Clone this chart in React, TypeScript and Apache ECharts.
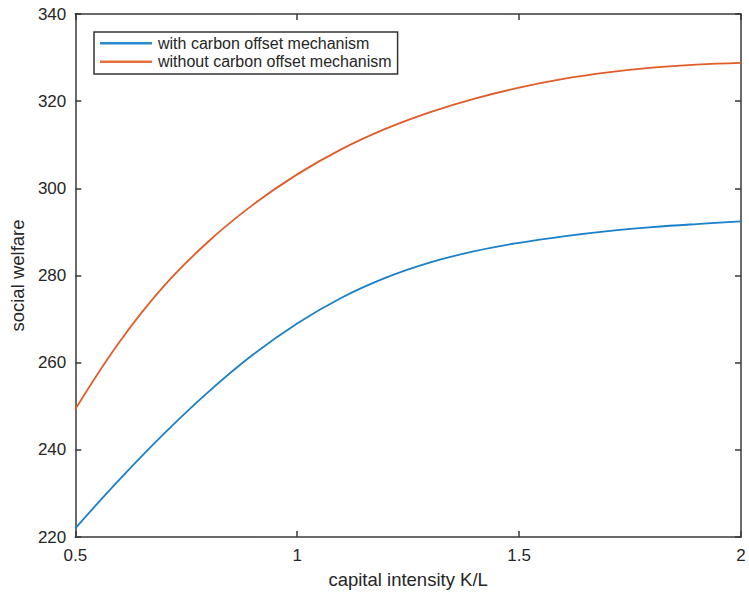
import React, { useEffect, useRef } from "react";
import * as echarts from "echarts";

const xValues = [0.5, 0.6, 0.7, 0.8, 0.9, 1.0, 1.1, 1.2, 1.3, 1.4, 1.5, 1.6, 1.7, 1.8, 1.9, 2.0];
const withOffset = [222.0, 233.2, 243.7, 253.3, 261.8, 269.0, 274.9, 279.5, 283.0, 285.6, 287.5, 289.0, 290.2, 291.1, 291.8, 292.4];
const withoutOffset = [249.3, 264.8, 277.6, 287.8, 296.2, 303.2, 309.0, 313.7, 317.5, 320.6, 323.1, 325.1, 326.6, 327.7, 328.4, 328.8];
const seriesNames = ["with carbon offset mechanism", "without carbon offset mechanism"];
const xAxisName = "capital intensity K/L";
const yAxisName = "social welfare";

const AXIS_COLOR = "#3a3a3a";
const TEXT_COLOR = "#262626";
const FONT = "'Liberation Sans', Arial, Helvetica, sans-serif";

export default function App() {
  const ref = useRef<HTMLDivElement>(null);
  useEffect(() => {
    if (!ref.current) return;
    const chart = echarts.init(ref.current, undefined, { renderer: "svg" });
    const axisLine = { show: true, lineStyle: { color: AXIS_COLOR, width: 1.5 } };
    const axisTick = { show: true, inside: true, length: 6, lineStyle: { color: AXIS_COLOR, width: 1.5 } };
    chart.setOption({
      animation: false,
      backgroundColor: "#ffffff",
      textStyle: { fontFamily: FONT },
      grid: { left: 74, right: 8, top: 14, bottom: 57, containLabel: false },
      legend: {
        orient: "vertical",
        left: 94,
        top: 32,
        padding: [3, 6, 4, 6],
        itemGap: 2,
        itemWidth: 52,
        itemHeight: 2.5,
        icon: "rect",
        borderColor: "#333333",
        borderWidth: 1.5,
        backgroundColor: "#ffffff",
        textStyle: { fontFamily: FONT, fontSize: 16, color: TEXT_COLOR, lineHeight: 16.5, padding: [0, 0, 0, 1] },
        data: seriesNames,
      },
      xAxis: [
        {
          type: "value",
          min: 0.5,
          max: 2,
          interval: 0.5,
          position: "bottom",
          name: xAxisName,
          nameLocation: "middle",
          nameGap: 33,
          nameTextStyle: { fontFamily: FONT, fontSize: 18.5, color: TEXT_COLOR },
          axisLine,
          axisTick,
          splitLine: { show: false },
          axisLabel: { fontFamily: FONT, fontSize: 17, color: TEXT_COLOR, margin: 10 },
        },
        {
          type: "value",
          min: 0.5,
          max: 2,
          interval: 0.5,
          position: "top",
          axisLine,
          axisTick,
          splitLine: { show: false },
          axisLabel: { show: false },
        },
      ],
      yAxis: [
        {
          type: "value",
          min: 220,
          max: 340,
          interval: 20,
          position: "left",
          name: yAxisName,
          nameLocation: "middle",
          nameGap: 45,
          nameTextStyle: { fontFamily: FONT, fontSize: 18.5, color: TEXT_COLOR },
          axisLine,
          axisTick,
          splitLine: { show: false },
          axisLabel: { fontFamily: FONT, fontSize: 17, color: TEXT_COLOR, margin: 9 },
        },
        {
          type: "value",
          min: 220,
          max: 340,
          interval: 20,
          position: "right",
          axisLine,
          axisTick,
          splitLine: { show: false },
          axisLabel: { show: false },
        },
      ],
      series: [
        {
          name: seriesNames[0],
          type: "line",
          smooth: 0.4,
          showSymbol: false,
          symbol: "none",
          lineStyle: { color: "#1a80c8", width: 1.8 },
          itemStyle: { color: "#2a8ad0" },
          data: xValues.map((x, i) => [x, withOffset[i]]),
        },
        {
          name: seriesNames[1],
          type: "line",
          smooth: 0.4,
          showSymbol: false,
          symbol: "none",
          lineStyle: { color: "#e05c28", width: 1.8 },
          itemStyle: { color: "#e8703a" },
          data: xValues.map((x, i) => [x, withoutOffset[i]]),
        },
      ],
    });
    return () => chart.dispose();
  }, []);
  return <div ref={ref} style={{ width: 749, height: 594, position: "absolute", left: 0, top: 0 }} />;
}
